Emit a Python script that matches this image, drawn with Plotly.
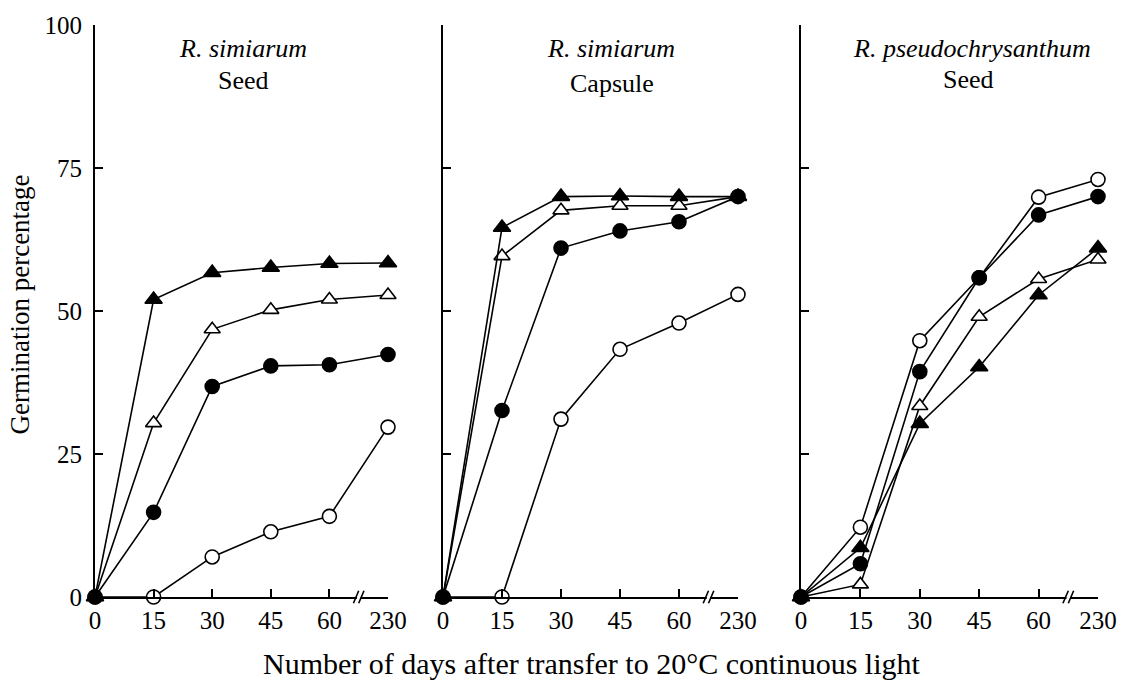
import plotly.graph_objects as go

# ---- data ----
days = ["0", "15", "30", "45", "60", "230"]
y_ticks = [0, 25, 50, 75, 100]

# Panel 1: R. simiarum, Seed
p1_filled_tri = [0, 52.0, 56.7, 57.6, 58.3, 58.4]
p1_open_tri = [0, 30.4, 46.8, 50.2, 52.0, 52.8]
p1_filled_circ = [0, 14.8, 36.8, 40.4, 40.6, 42.4]
p1_open_circ = [0, 0, 7.0, 11.4, 14.1, 29.7]

# Panel 2: R. simiarum, Capsule
p2_filled_tri = [0, 64.6, 70.0, 70.1, 70.0, 70.0]
p2_open_tri = [0, 59.6, 67.6, 68.4, 68.4, 70.0]
p2_filled_circ = [0, 32.6, 61.0, 64.0, 65.6, 70.0]
p2_open_circ = [0, 0, 31.1, 43.3, 47.9, 52.9]

# Panel 3: R. pseudochrysanthum, Seed
p3_filled_tri = [0, 8.6, 30.3, 40.2, 52.8, 61.0]
p3_open_tri = [0, 2.2, 33.4, 49.0, 55.6, 59.0]
p3_filled_circ = [0, 5.8, 39.4, 55.8, 66.8, 70.0]
p3_open_circ = [0, 12.2, 44.8, 55.8, 69.9, 73.0]

panel_titles = [("R. simiarum", "Seed"), ("R. simiarum", "Capsule"),
                ("R. pseudochrysanthum", "Seed")]
x_title = "Number of days after transfer to 20°C continuous light"
y_title = "Germination percentage"

panels = [
    [p1_open_circ, p1_filled_circ, p1_open_tri, p1_filled_tri],
    [p2_open_circ, p2_filled_circ, p2_open_tri, p2_filled_tri],
    [p3_open_circ, p3_filled_circ, p3_open_tri, p3_filled_tri],
]
styles = [
    dict(symbol="circle", color="white", size=14),
    dict(symbol="circle", color="black", size=14),
    dict(symbol="triangle-up", color="white", size=14),
    dict(symbol="triangle-up", color="black", size=15),
]

FONT = "Liberation Serif, Times New Roman, serif"
W, H = 1130, 681
ML, MR, MT, MB = 95, 32, 22, 84
pw = W - ML - MR
ph = H - MT - MB
domains_px = [(95, 388), (443, 738), (801, 1098)]
domains = [((a - ML) / pw, (b - ML) / pw) for a, b in domains_px]

xpos = list(range(len(days)))

fig = go.Figure()
for i, series in enumerate(panels):
    xa = "x" if i == 0 else f"x{i+1}"
    for vals, st in zip(series, styles):
        fig.add_trace(go.Scatter(
            x=xpos, y=vals, xaxis=xa, yaxis="y" if i == 0 else f"y{i+1}",
            mode="lines+markers", cliponaxis=False, showlegend=False,
            line=dict(color="black", width=1.6),
            marker=dict(symbol=st["symbol"], color=st["color"], size=st["size"],
                        line=dict(color="black", width=1.6)),
        ))

layout = dict(
    width=W, height=H, margin=dict(l=ML, r=MR, t=MT, b=MB),
    paper_bgcolor="white", plot_bgcolor="white", showlegend=False,
    font=dict(family=FONT, size=24, color="black"),
)
for i, (d0, d1) in enumerate(domains):
    sx = "" if i == 0 else str(i + 1)
    layout[f"xaxis{sx}"] = dict(
        domain=[d0, d1], range=[0, 5], tickmode="array", tickvals=xpos,
        ticktext=days, ticks="inside", ticklen=8, tickwidth=1.5, tickcolor="black",
        showline=True, linecolor="black", linewidth=2, showgrid=False, zeroline=False,
        tickfont=dict(family=FONT, size=25), ticklabelstandoff=0,
        anchor="y" if i == 0 else f"y{i+1}", fixedrange=True,
    )
    layout[f"yaxis{sx}"] = dict(
        domain=[0, 1], range=[0, 100], tickmode="array", tickvals=y_ticks,
        ticktext=[str(v) for v in y_ticks] if i == 0 else ["" for _ in y_ticks],
        showticklabels=(i == 0),
        ticks="inside", ticklen=8, tickwidth=1.5, tickcolor="black",
        showline=True, linecolor="black", linewidth=2, showgrid=False, zeroline=False,
        tickfont=dict(family=FONT, size=25), ticklabelstandoff=6,
        anchor="x" if i == 0 else f"x{i+1}", fixedrange=True,
    )
fig.update_layout(**layout)

# axis breaks between 60 and 230
shapes = []
for i in range(3):
    sx = "x" if i == 0 else f"x{i+1}"
    sy = "y" if i == 0 else f"y{i+1}"
    shapes.append(dict(type="rect", xref=sx, yref=f"{sy} domain", x0=4.47, x1=4.53,
                       y0=-0.004, y1=0.004, fillcolor="white", line=dict(width=0),
                       layer="above"))
    for dx in (-0.06, 0.03):
        shapes.append(dict(type="line", xref=sx, yref=f"{sy} domain",
                           x0=4.5 + dx - 0.03, x1=4.5 + dx + 0.06, y0=-0.011, y1=0.011,
                           line=dict(color="black", width=1.6), layer="above"))
fig.update_layout(shapes=shapes)

def py(px):
    return (H - MB - px) / ph

ann = []
title_pos = [(243, 243, 78), (611, 612, 81), (972, 968, 77)]
for i, ((sp, org), (cx1, cx2, oy)) in enumerate(zip(panel_titles, title_pos)):
    ann.append(dict(text=f"<i>{sp}</i>", xref="paper", yref="paper",
                    x=(cx1 - ML) / pw, y=py(46), xanchor="center", yanchor="middle",
                    showarrow=False, font=dict(family=FONT, size=26)))
    ann.append(dict(text=org, xref="paper", yref="paper",
                    x=(cx2 - ML) / pw, y=py(oy), xanchor="center", yanchor="middle",
                    showarrow=False, font=dict(family=FONT, size=26)))
ann.append(dict(text=x_title, xref="paper", yref="paper", x=(592 - ML) / pw,
                y=py(664), xanchor="center", yanchor="middle", showarrow=False,
                font=dict(family=FONT, size=30)))
ann.append(dict(text=y_title, xref="paper", yref="paper", x=0, xshift=-75,
                y=py(303), xanchor="center", yanchor="middle", showarrow=False,
                textangle=-90, font=dict(family=FONT, size=27)))
fig.update_layout(annotations=ann)

fig.write_html("out.html")
